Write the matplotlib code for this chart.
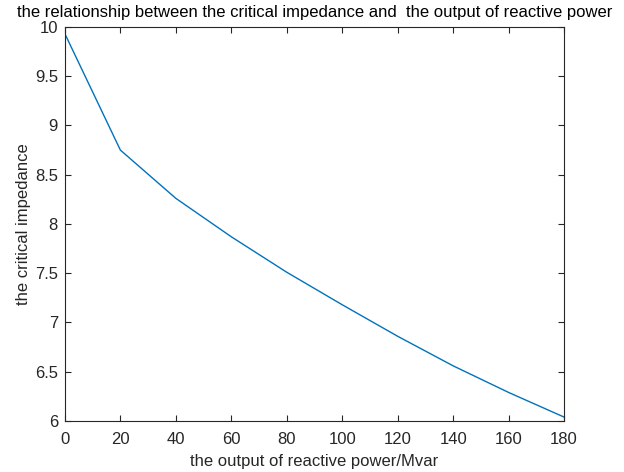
import matplotlib
matplotlib.use("Agg")
import matplotlib.pyplot as plt

reactive_power = [0, 20, 40, 60, 80, 100, 120, 140, 160, 180]
critical_impedance = [9.93, 8.75, 8.26, 7.87, 7.51, 7.18, 6.86, 6.56, 6.29, 6.04]
xticks = [0, 20, 40, 60, 80, 100, 120, 140, 160, 180]
yticks = [6, 6.5, 7, 7.5, 8, 8.5, 9, 9.5, 10]
ytick_labels = ["6", "6.5", "7", "7.5", "8", "8.5", "9", "9.5", "10"]

plt.rcParams['font.family'] = ['Liberation Sans', 'DejaVu Sans']

fig = plt.figure(figsize=(6.24, 4.72), dpi=100)
ax = fig.add_axes([0.104, 0.108, 0.800, 0.835])
ax.plot(reactive_power, critical_impedance, color='#0072BD', lw=1.0)
ax.set_xlim(0, 180)
ax.set_ylim(6, 10)
ax.set_xticks(xticks)
ax.set_yticks(yticks)
ax.set_yticklabels(ytick_labels)
dark = '#262626'
ax.tick_params(direction='in', top=True, right=True, length=4, width=0.8,
               labelsize=12, colors=dark)
ax.tick_params(axis='x', pad=8)
ax.tick_params(axis='y', pad=5)
for s in ax.spines.values():
    s.set_color(dark)
    s.set_linewidth(0.8)
ax.set_xlabel('the output of reactive power/Mvar', fontsize=12, color=dark, labelpad=5)
ax.set_ylabel('the critical impedance', fontsize=12, color=dark, labelpad=3)
ax.set_title('the relationship between the critical impedance and  the output of reactive power',
             fontsize=12, color='black', pad=7)
fig.savefig('out.png', dpi=100)
